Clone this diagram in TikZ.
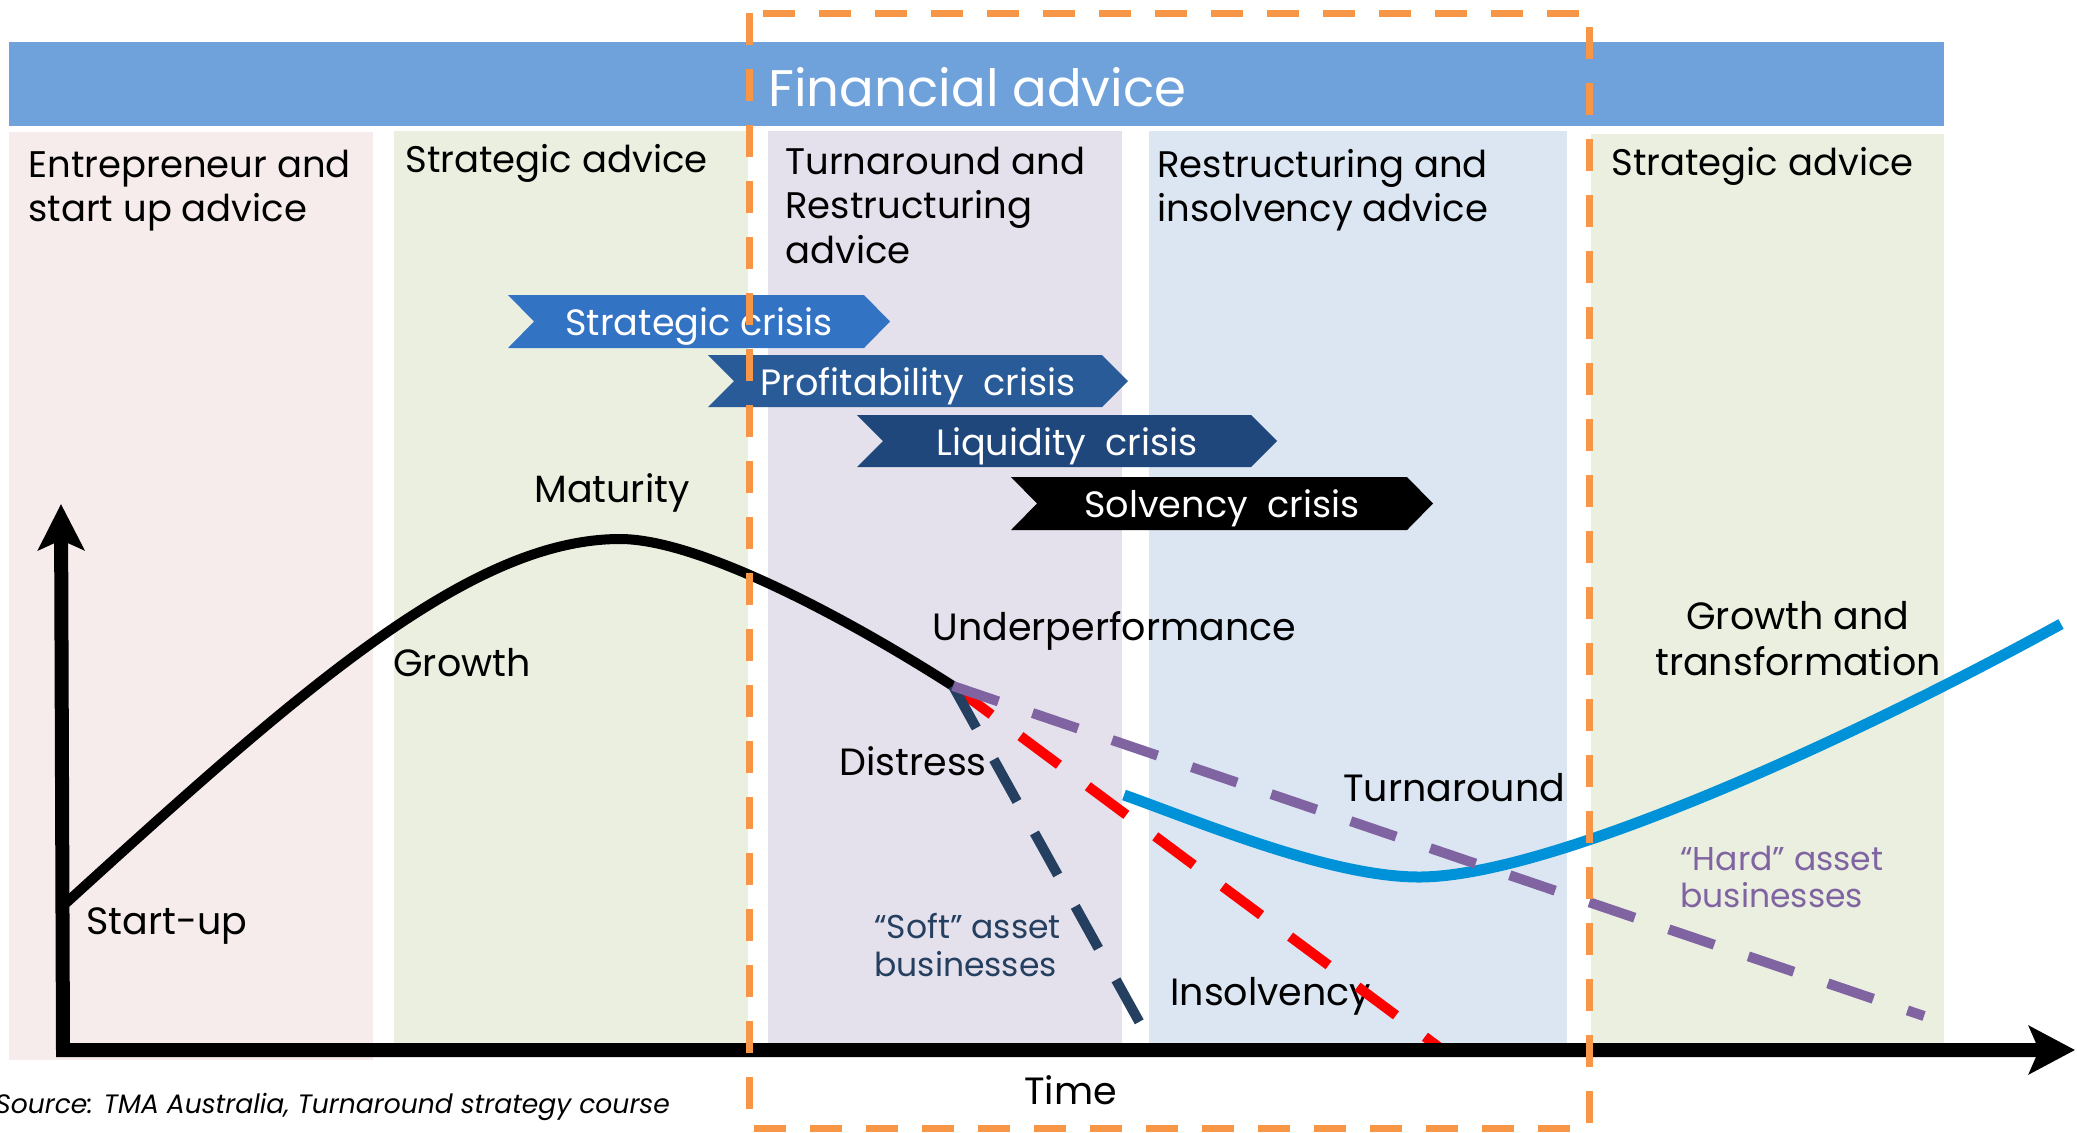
\documentclass[tikz,border=0pt]{standalone}
\usepackage{fontspec}
\setmainfont{Poppins}
\usetikzlibrary{arrows.meta}

\definecolor{bannerblue}{HTML}{6FA1DB}
\definecolor{pinkbg}{HTML}{F7ECEC}
\definecolor{greenbg}{HTML}{EAEFE0}
\definecolor{lilacbg}{HTML}{E4E0EC}
\definecolor{bluebg}{HTML}{DCE6F2}
\definecolor{stratblue}{HTML}{3373C4}
\definecolor{profblue}{HTML}{295B99}
\definecolor{liqblue}{HTML}{20477C}
\definecolor{frameorange}{HTML}{F79646}
\definecolor{hardpurple}{HTML}{8064A2}
\definecolor{softnavy}{HTML}{243F60}
\definecolor{turnblue}{HTML}{0092D8}

\begin{document}
\begin{tikzpicture}[x=0.5pt, y=-0.5pt,
    hd/.style={anchor=base west, inner sep=0pt, font=\fontsize{18.5}{22}\selectfont},
    lbl/.style={anchor=base west, inner sep=0pt, font=\fontsize{19}{23}\selectfont},
    assetlbl/.style={anchor=base west, inner sep=0pt, font=\fontsize{16.5}{19}\selectfont},
    crisis/.style={anchor=base, inner sep=0pt, text=white, font=\fontsize{18.3}{22}\selectfont},
    dashline/.style={line width=5pt, dash pattern=on 24pt off 18pt}]
    \useasboundingbox (0,0) rectangle (2077,1132);

    % advice columns
    \fill[pinkbg] (9,132) rectangle (373,1060);
    \fill[greenbg] (394,131) rectangle (748,1046);
    \fill[lilacbg] (768,131) rectangle (1122,1046);
    \fill[bluebg] (1149,131) rectangle (1567,1046);
    \fill[greenbg] (1591,134) rectangle (1944,1046);

    \fill[bannerblue] (9,42) rectangle (1944,126);
    \node[anchor=base west, inner sep=0pt, text=white, font=\fontsize{25.7}{30}\selectfont] (fin) at (768,106) {Financial advice};

    \node[hd] (ent1) at (28,177) {Entrepreneur and};
    \node[hd] (ent2) at (28,221) {start up advice};
    \node[hd] (strat1) at (405,172) {Strategic advice};
    \node[hd] (turn1) at (785,174) {Turnaround and};
    \node[hd] (turn2) at (785,218) {Restructuring};
    \node[hd] (turn3) at (785,263) {advice};
    \node[hd] (rest1) at (1157,177) {Restructuring and};
    \node[hd] (rest2) at (1157,221) {insolvency advice};
    \node[hd] (strat2) at (1611,175) {Strategic advice};

    % crisis bands
    \fill[stratblue] (508,295) -- (864,295) -- (890,321.5) -- (864,348) -- (508,348) -- (534,321.5) -- cycle;
    \node[crisis] (scrisis) at (699,335) {Strategic crisis};
    \fill[profblue] (708,355) -- (1102,355) -- (1128,381) -- (1102,407) -- (708,407) -- (734,381) -- cycle;
    \node[crisis] (pcrisis) at (918,395) {Profitability\ \ crisis};
    \fill[liqblue] (857,415) -- (1251,415) -- (1277,441) -- (1251,467) -- (857,467) -- (883,441) -- cycle;
    \node[crisis] (lcrisis) at (1067,455) {Liquidity\ \ crisis};
    \fill[black] (1011,477) -- (1407,477) -- (1433,503.5) -- (1407,530) -- (1011,530) -- (1037,503.5) -- cycle;
    \node[crisis] (vcrisis) at (1222,517) {Solvency\ \ crisis};

    % life cycle labels
    \node[lbl] (mat) at (534,502) {Maturity};
    \node[lbl] (gro) at (393,676) {Growth};
    \node[lbl] (start) at (86,934) {Start-up};
    \node[lbl] (under) at (932,640) {Underperformance};
    \node[lbl] (dis) at (839,775) {Distress};
    \node[assetlbl, text=softnavy] (soft1) at (874,938) {“Soft” asset};
    \node[assetlbl, text=softnavy] (soft2) at (874,976) {businesses};
    \node[lbl] (insol) at (1170,1005) {Insolvency};
    \node[lbl] (turnr) at (1343,801) {Turnaround};
    \node[lbl, anchor=base] (gt1) at (1798,629) {Growth and};
    \node[lbl, anchor=base] (gt2) at (1798,675) {transformation};
    \node[assetlbl, text=hardpurple] (hard1) at (1680,870) {“Hard” asset};
    \node[assetlbl, text=hardpurple] (hard2) at (1680,907) {businesses};
    \node[lbl] (time) at (1024,1104) {Time};
    \node[anchor=base west, inner sep=0pt, font=\fontsize{13.3}{16}\itshape] (src) at (-5,1113) {Source: TMA Australia, Turnaround strategy course};

    % curves
    \coordinate (birth) at (66,903);
    \coordinate (peak) at (620,539);
    \coordinate (fork) at (953,686);
    \coordinate (softend) at (1141,1025);
    \coordinate (redend) at (1440,1048);
    \coordinate (hardend) at (1924,1016);
    \draw[line width=5pt] (birth) .. controls (300,690) and (470,539) .. (peak)
        .. controls (700,539) and (850,620) .. (fork);
    \draw[dashline, red] (fork) -- (redend);
    \draw[dashline, softnavy] (fork) -- (softend);
    \draw[turnblue, line width=5.5pt] (1124,795) .. controls (1200,822) and (1330,877) .. (1419,877)
        .. controls (1550,877) and (1850,740) .. (2061,624);
    \draw[dashline, hardpurple] (fork) -- (hardend);

    % axes
    \draw[line width=7pt, {Stealth[length=23pt,width=23pt,inset=5pt]}-{Stealth[length=23pt,width=24pt,inset=5pt]}]
        (61,504) -- (63,1050) -- (2075,1050);

    \draw[frameorange, line width=3.5pt, dash pattern=on 16pt off 12pt] (749,13) rectangle (1589,1128);
\end{tikzpicture}
\end{document}
